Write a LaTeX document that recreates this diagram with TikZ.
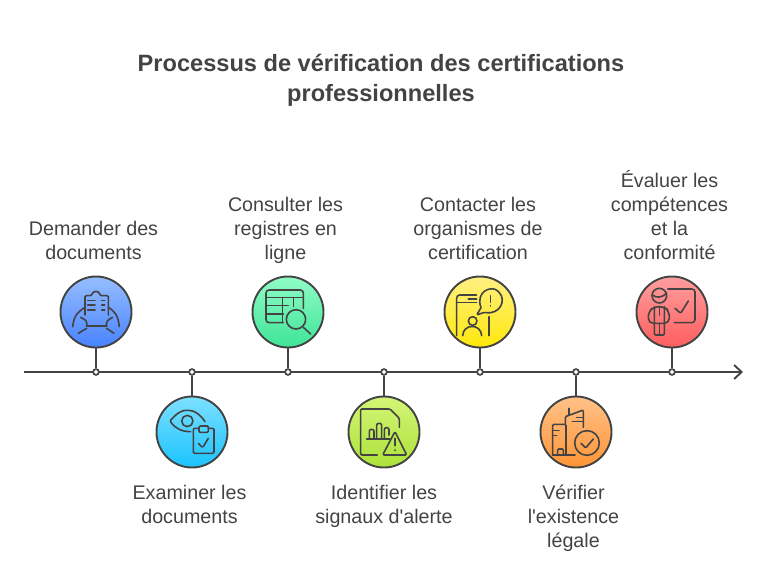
\documentclass[tikz,border=0pt]{standalone}
\usepackage{fontspec}
\setmainfont{Liberation Sans}
\usepackage{tikz}
\usetikzlibrary{arrows.meta,positioning}
\definecolor{inkgray}{HTML}{434343}
\tikzset{
  stage/.style={circle,draw=inkgray,line width=1.9pt,minimum size=71pt,inner sep=0pt},
  dot/.style={circle,draw=inkgray,fill=white,line width=1.7pt,minimum size=5.8pt,inner sep=0pt},
  stem/.style={draw=inkgray,line width=1.9pt},
  label/.style={text=inkgray,align=center,inner sep=0pt,font=\fontsize{19.7}{24}\selectfont},
  icon/.style={draw=inkgray,line width=1.6pt,line cap=round,line join=round,rounded corners=1.2pt},
  zoomed/.style={x=0.3333pt,y=-0.3333pt}
}
\begin{document}
\begin{tikzpicture}[x=1pt,y=-1pt]
\useasboundingbox (0,0) rectangle (768,576);
\node (title) [text=inkgray,align=center,inner sep=0pt,font=\fontsize{23.6}{30}\selectfont\bfseries] at (381,80) {Processus de vérification des certifications\\professionnelles};
\coordinate (axisstart) at (24,372);
\coordinate (axisend) at (743,372);
\draw [inkgray,line width=1.9pt,-{Straight Barb[length=7.5pt,width=14pt,line width=1.9pt]}] (axisstart) -- (axisend);
% junctions
\node (dota) [dot] at (96,372) {};
\node (dotb) [dot] at (192,372) {};
\node (dotc) [dot] at (288,372) {};
\node (dotd) [dot] at (384,372) {};
\node (dote) [dot] at (480,372) {};
\node (dotf) [dot] at (576,372) {};
\node (dotg) [dot] at (672,372) {};
% circles
\node (stagea) [stage,top color={rgb,255:red,150;green,190;blue,255},bottom color={rgb,255:red,72;green,130;blue,255}] at (96,312) {};
\node (stageb) [stage,top color={rgb,255:red,125;green,224;blue,255},bottom color={rgb,255:red,26;green,195;blue,255}] at (192,432) {};
\node (stagec) [stage,top color={rgb,255:red,145;green,252;blue,198},bottom color={rgb,255:red,62;green,228;blue,152}] at (288,312) {};
\node (staged) [stage,top color={rgb,255:red,212;green,245;blue,120},bottom color={rgb,255:red,172;green,226;blue,56}] at (384,432) {};
\node (stagee) [stage,top color={rgb,255:red,255;green,240;blue,130},bottom color={rgb,255:red,255;green,232;blue,10}] at (480,312) {};
\node (stagef) [stage,top color={rgb,255:red,255;green,194;blue,136},bottom color={rgb,255:red,255;green,148;blue,54}] at (576,432) {};
\node (stageg) [stage,top color={rgb,255:red,255;green,158;blue,158},bottom color={rgb,255:red,255;green,94;blue,94}] at (672,312) {};
% stems
\draw [stem] (stagea) -- (dota);
\draw [stem] (stageb) -- (dotb);
\draw [stem] (stagec) -- (dotc);
\draw [stem] (staged) -- (dotd);
\draw [stem] (stagee) -- (dote);
\draw [stem] (stagef) -- (dotf);
\draw [stem] (stageg) -- (dotg);
% labels
\node (labela) [label,anchor=south] at (93.5,260) {Demander des\\documents};
\node (labelb) [label,anchor=north] at (189.5,485) {Examiner les\\documents};
\node (labelc) [label,anchor=south] at (285.5,264) {Consulter les\\registres en\\ligne};
\node (labeld) [label,anchor=north] at (384,485) {Identifier les\\signaux d\textquotesingle alerte};
\node (labele) [label,anchor=south] at (478,260) {Contacter les\\organismes de\\certification};
\node (labelf) [label,anchor=north] at (573.5,485) {Vérifier\\l\textquotesingle existence\\légale};
\node (labelg) [label,anchor=south] at (669.5,260) {Évaluer les\\compétences\\et la\\conformité};
% clipboard and hands
\begin{scope}[shift={(50,265)},zoomed]
\draw [icon] (105,150) -- (105,92) -- (125,92) .. controls (128,76) and (148,76) .. (150,92) -- (175,92) -- (175,150);
\draw [icon] (110,183) -- (170,183);
\draw [icon] (113,106) -- (135,106);
\draw [icon] (113,120) -- (135,120);
\draw [icon] (113,135) -- (135,135);
\draw [icon] (155,106) -- (164,106);
\draw [icon] (155,120) -- (164,120);
\draw [icon] (155,135) -- (164,135);
\draw [icon] (68,185) .. controls (72,150) and (85,140) .. (105,127);
\draw [icon] (92,157) .. controls (110,165) and (112,172) .. (110,183);
\draw [icon] (85,205) -- (110,190);
\draw [icon] (208,185) .. controls (204,150) and (195,140) .. (175,127);
\draw [icon] (188,157) .. controls (170,165) and (168,172) .. (170,183);
\draw [icon] (192,205) -- (170,190);
\end{scope}
% eye and clipboard
\begin{scope}[shift={(50,265)},zoomed]
\draw [icon] (422,500) .. controls (395,500) and (375,490) .. (360,468) .. controls (380,445) and (395,436) .. (412,436) .. controls (435,436) and (452,450) .. (465,470);
\draw [icon] (412,468) circle (17);
\draw [icon] (447,490) -- (430,490) -- (430,565) -- (492,565) -- (492,490) -- (475,490);
\draw [icon] (447,483) rectangle (475,502);
\draw [icon] (445,535) -- (458,548) -- (475,520);
\end{scope}
% table and magnifier
\begin{scope}[shift={(240,265)},zoomed]
\draw [icon,rounded corners=3pt] (130,173) -- (78,173) -- (78,75) -- (190,75) -- (190,130);
\draw [icon] (78,98) -- (190,98);
\draw [icon] (78,122) -- (145,122);
\draw [icon] (78,147) -- (130,147);
\draw [icon] (128,98) -- (128,173);
\draw [icon] (160,98) -- (160,125);
\draw [icon] (168,163) circle (29);
\draw [icon] (190,187) -- (212,207);
\end{scope}
% document and warning
\begin{scope}[shift={(240,265)},zoomed]
\draw [icon] (412,570) -- (362,570) -- (362,432) -- (450,432) -- (478,460) -- (478,487);
\draw [icon] (380,522) -- (450,522);
\draw [icon,rounded corners=2pt] (388,522) -- (388,493) -- (402,493) -- (402,522);
\draw [icon,rounded corners=2pt] (410,522) -- (410,475) -- (425,475) -- (425,522);
\draw [icon,rounded corners=2pt] (433,522) -- (433,488) -- (447,488) -- (447,510);
\draw [icon] (465,500) -- (500,570) -- (428,570) -- cycle;
\draw [icon] (465,520) -- (465,542);
\draw [icon] (465,555) -- (465,556);
\end{scope}
% phone, person and speech bubble
\begin{scope}[shift={(435,265)},zoomed]
\draw [icon,rounded corners=3pt] (65,212) -- (65,90) -- (125,90);
\draw [icon] (65,113) -- (125,113);
\draw [icon] (100,102) -- (125,102);
\draw [icon] (162,155) -- (162,212);
\draw [icon] (138,128) .. controls (120,80) and (170,60) .. (190,80) .. controls (215,105) and (195,150) .. (148,142) -- (125,150) -- (138,128);
\draw [icon] (167,92) -- (167,112);
\draw [icon] (167,122) -- (167,123);
\draw [icon] (113,168) circle (13);
\draw [icon] (83,212) .. controls (85,175) and (138,175) .. (140,212);
\end{scope}
% buildings and check
\begin{scope}[shift={(435,265)},zoomed]
\draw [icon] (353,570) -- (353,478) -- (393,478) -- (393,570);
\draw [icon] (353,570) -- (420,570);
\draw [icon] (353,497) -- (372,497);
\draw [icon] (353,512) -- (365,512);
\draw [icon] (368,570) -- (368,552) -- (385,552) -- (385,570);
\draw [icon] (391,478) -- (391,455) -- (445,435) -- (445,487);
\draw [icon] (402,430) -- (402,450);
\draw [icon] (425,458) -- (445,458);
\draw [icon] (412,470) -- (445,470);
\draw [icon] (456,534) circle (37);
\draw [icon] (438,535) -- (452,549) -- (475,522);
\end{scope}
% trainer and board
\begin{scope}[shift={(625,265)},zoomed]
\draw [icon,rounded corners=3pt] (128,72) -- (210,72) -- (210,173) -- (148,173);
\draw [icon] (150,130) -- (167,145) -- (190,108);
\draw [icon] (103,92) circle (22);
\draw [icon] (82,90) .. controls (95,100) and (110,98) .. (125,85);
\draw [icon,rounded corners=5pt] (70,175) -- (70,140) -- (88,125) -- (118,125) -- (133,140) -- (133,175) -- cycle;
\draw [icon] (88,125) -- (88,210) -- (118,210) -- (118,125);
\draw [icon] (103,175) -- (103,210);
\draw [icon] (103,125) -- (103,150);
\end{scope}
\end{tikzpicture}
\end{document}
